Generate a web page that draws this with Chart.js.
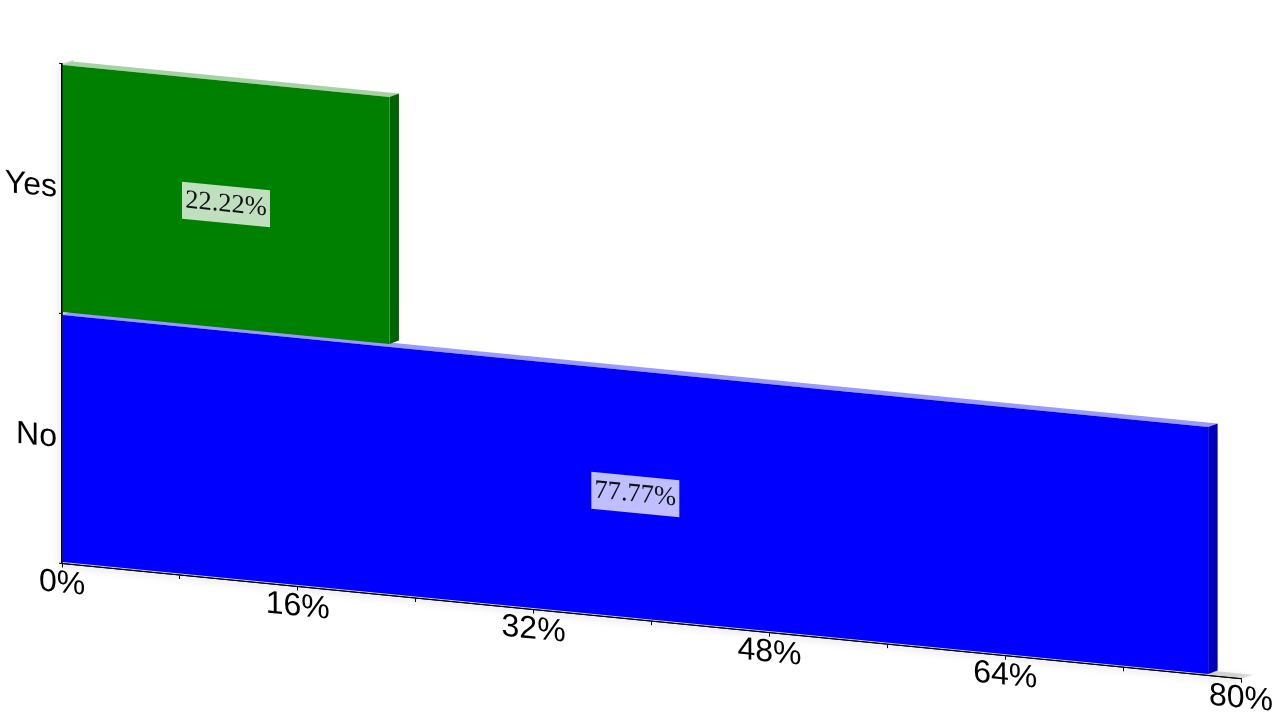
<!DOCTYPE html>
<html>
<head>
<meta charset="utf-8">
<style>
  html, body { margin: 0; padding: 0; background: #fff; }
  canvas { display: block; }
</style>
<script src="https://cdn.jsdelivr.net/npm/chart.js@4/dist/chart.umd.min.js"></script>
</head>
<body>
<canvas id="chart" width="1280" height="720"></canvas>
<script>
const categories = ['Yes', 'No'];
const shares = [22.22, 77.77];
const frontColors = ['#008000', '#0000ff'];
const topColors = ['#a6d2a6', '#9999ff'];
const sideColors = ['#006400', '#0000bc'];

// fake 3d look: everything is sheared, faces get drawn around the real bars
const slope = 0.0977;
const pivotX = 62;
const barDepth = { x: 9.5, y: -4.5 };
const floorDepth = { x: 12, y: -5 };

function poly(ctx, points, color) {
  ctx.fillStyle = color;
  ctx.beginPath();
  points.forEach((p, i) => i ? ctx.lineTo(p[0], p[1]) : ctx.moveTo(p[0], p[1]));
  ctx.closePath();
  ctx.fill();
}

const shear3d = {
  id: 'shear3d',
  beforeDraw(chart) {
    const ctx = chart.ctx;
    const area = chart.chartArea;
    ctx.save();
    ctx.transform(1, slope, 0, 1, 0, -slope * pivotX);

    // wall and floor, mostly hidden behind the bars
    poly(ctx, [[area.left, area.bottom], [area.left + floorDepth.x, area.bottom + floorDepth.y],
      [area.right + floorDepth.x, area.bottom + floorDepth.y], [area.right, area.bottom]], '#dcdcdc');
    poly(ctx, [[area.left, area.top], [area.left + floorDepth.x, area.top + floorDepth.y],
      [area.left + floorDepth.x, area.bottom], [area.left, area.bottom]], '#dcdcdc');

    // soft shadow along the axes
    ctx.save();
    ctx.shadowColor = 'rgba(0,0,0,0.6)';
    ctx.shadowBlur = 9;
    ctx.strokeStyle = '#000';
    ctx.lineWidth = 1;
    ctx.beginPath();
    ctx.moveTo(area.left, area.top);
    ctx.lineTo(area.left, area.bottom);
    ctx.lineTo(area.right, area.bottom);
    ctx.stroke();
    ctx.restore();
  },
  beforeDatasetsDraw(chart) {
    const ctx = chart.ctx;
    const bars = chart.getDatasetMeta(0).data;
    // lower bar first so the upper bar's side sits on top of it
    for (let i = bars.length - 1; i >= 0; i--) {
      const b = bars[i].getProps(['x', 'y', 'base', 'height']);
      const top = b.y - b.height / 2;
      const bottom = b.y + b.height / 2;
      poly(ctx, [[b.base, top], [b.base + barDepth.x, top + barDepth.y],
        [b.x + barDepth.x, top + barDepth.y], [b.x, top]], topColors[i]);
      poly(ctx, [[b.x, top], [b.x + barDepth.x, top + barDepth.y],
        [b.x + barDepth.x, bottom + barDepth.y], [b.x, bottom]], sideColors[i]);
    }
  },
  afterDatasetsDraw(chart) {
    const ctx = chart.ctx;
    const bars = chart.getDatasetMeta(0).data;
    bars.forEach((bar, i) => {
      const b = bar.getProps(['x', 'y', 'base']);
      const cx = (b.x + b.base) / 2;
      ctx.fillStyle = 'rgba(255,255,255,0.75)';
      ctx.fillRect(cx - 44, b.y - 18.5, 88, 37);
      ctx.fillStyle = '#111';
      ctx.font = '26.5px "Liberation Serif"';
      ctx.textAlign = 'center';
      ctx.textBaseline = 'middle';
      ctx.fillText(shares[i] + '%', cx, b.y);
    });
  },
  afterDraw(chart) {
    chart.ctx.restore();
  }
};

new Chart(document.getElementById('chart'), {
  type: 'bar',
  data: {
    labels: categories,
    datasets: [{
      data: shares,
      backgroundColor: frontColors,
      borderWidth: 0,
      barPercentage: 0.988,
      categoryPercentage: 1
    }]
  },
  plugins: [shear3d],
  options: {
    indexAxis: 'y',
    responsive: false,
    animation: false,
    layout: { padding: { top: 63.5, right: 39, bottom: 0, left: 0 } },
    plugins: { legend: { display: false }, tooltip: { enabled: false } },
    scales: {
      x: {
        min: 0,
        max: 80,
        afterFit(scale) { scale.height = 156.5; },
        border: { color: '#000', width: 1 },
        grid: { drawOnChartArea: false, tickLength: 4, color: '#000' },
        ticks: {
          stepSize: 8,
          autoSkip: false,
          maxRotation: 0,
          padding: -3,
          color: '#000',
          font: { family: '"Liberation Sans"', size: 32 },
          callback: value => value % 16 === 0 ? value + '%' : ''
        }
      },
      y: {
        afterFit(scale) { scale.width = 62; },
        border: { color: '#000', width: 1.5, z: 1 },
        grid: { drawOnChartArea: false, tickLength: 3, color: '#000' },
        ticks: {
          padding: 2,
          color: '#000',
          font: { family: '"Liberation Sans"', size: 32 }
        }
      }
    }
  }
});
</script>
</body>
</html>
